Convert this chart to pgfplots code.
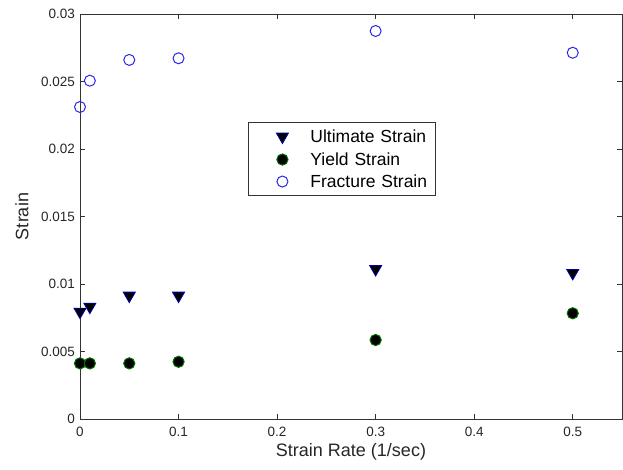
\documentclass[border=0pt]{standalone}
\usepackage{pgfplots}
\pgfplotsset{compat=1.18}
\usepackage{fontspec}
\setmainfont{Liberation Sans}
\begin{document}
\begin{tikzpicture}
\begin{axis}[
  at={(0pt,0pt)}, anchor=south west,
  scale only axis, width=542pt, height=405pt,
  xmin=0, xmax=0.55, ymin=0, ymax=0.03,
  scaled ticks=false,
  xtick={0,0.1,0.2,0.3,0.4,0.5},
  xticklabels={0,0.1,0.2,0.3,0.4,0.5},
  ytick={0,0.005,0.01,0.015,0.02,0.025,0.03},
  yticklabels={0,0.005,0.01,0.015,0.02,0.025,0.03},
  tick align=inside, major tick length=5pt,
  axis line style={black!80, line width=0.9pt},
  every tick/.style={black!80, line width=0.9pt},
  /pgf/number format/assume math mode=true,
  ticklabel style={font=\fontsize{13.5}{16}\selectfont, text=black!85},
  xticklabel style={inner sep=0pt, yshift=-8pt},
  yticklabel style={inner sep=0pt, xshift=-5pt},
  xlabel={Strain Rate (1/sec)},
  ylabel={Strain},
  label style={font=\fontsize{18}{20}\selectfont, text=black!85},
  xlabel style={at={(axis description cs:0.5,0)}, anchor=north, inner sep=0pt, yshift=-24pt},
  ylabel style={at={(axis description cs:0,0.5)}, anchor=center, inner sep=0pt, yshift=58pt},
  legend style={at={(0.31,0.733)}, anchor=north west, draw=black!80, line width=0.8pt,
    inner xsep=0pt, inner ysep=8pt, row sep=10pt,
    font=\fontsize{17.5}{19}\selectfont,
    nodes={inner sep=0pt, text height=12pt, text depth=0pt, text width=125pt, align=left}},
  legend cell align=left,
  legend image code/.code={%
    \path[draw=none, fill=none] (0pt,-6pt) rectangle (62pt,6pt);
    \draw[#1] plot coordinates {(34pt,0pt)};},
]
\addplot[only marks, mark=triangle*, mark size=7pt, mark options={rotate=180, draw={rgb,255:red,0;green,0;blue,170}, fill=black, line width=0.8pt}]
  coordinates {(0,0.00795) (0.01,0.00832) (0.05,0.00914) (0.1,0.00914) (0.3,0.01111) (0.5,0.01082)};
\addlegendentry{Ultimate Strain}
\addplot[only marks, mark=*, mark size=5.6pt, mark options={draw={rgb,255:red,0;green,110;blue,0}, fill=black, line width=1pt}]
  coordinates {(0,0.00412) (0.01,0.00412) (0.05,0.00412) (0.1,0.00424) (0.3,0.00585) (0.5,0.00783)};
\addlegendentry{Yield Strain}
\addplot[only marks, mark=o, mark size=5.5pt, mark options={draw={rgb,255:red,40;green,40;blue,235}, line width=1pt}]
  coordinates {(0,0.02311) (0.01,0.02506) (0.05,0.0266) (0.1,0.02672) (0.3,0.02874) (0.5,0.02713)};
\addlegendentry{Fracture Strain}
\end{axis}
\pgfresetboundingbox
\path[use as bounding box] (-80pt,-51pt) rectangle (543pt,419pt);
\end{tikzpicture}
\end{document}
